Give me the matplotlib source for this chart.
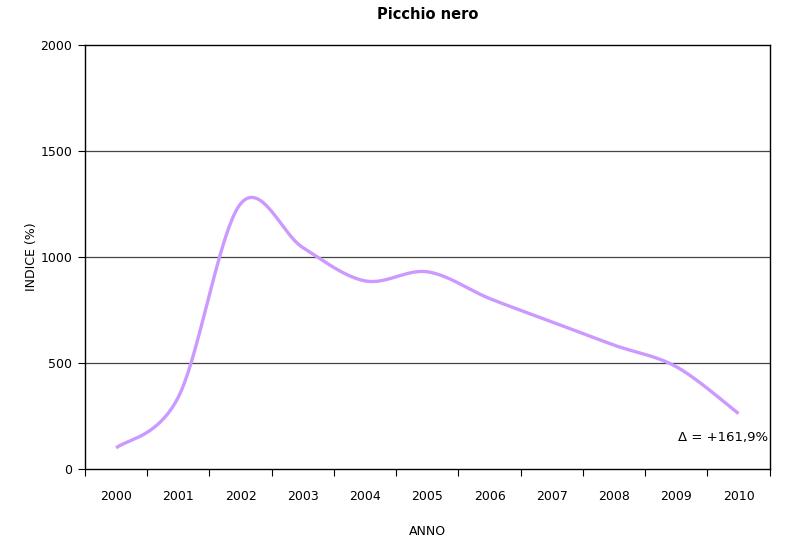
import numpy as np
import matplotlib
matplotlib.use("Agg")
import matplotlib.pyplot as plt

years = ["2000", "2001", "2002", "2003", "2004", "2005",
         "2006", "2007", "2008", "2009", "2010"]
index_values = [100, 340, 1252, 1045, 888, 931, 805, 695, 585, 483, 262]
delta_label = "Δ = +161,9%"
title = "Picchio nero"

plt.rcParams['font.family'] = ['DejaVu Sans Condensed', 'DejaVu Sans']


def smooth_curve(x, y, steps=40):
    """Catmull-Rom style cubic Bezier smoothing through every point."""
    x = np.asarray(x, float)
    y = np.asarray(y, float)
    px = np.concatenate([[x[0]], x, [x[-1]]])
    py = np.concatenate([[y[0]], y, [y[-1]]])
    xs, ys = [], []
    t = np.linspace(0, 1, steps)
    for i in range(1, len(px) - 2):
        p0 = np.array([px[i], py[i]])
        p3 = np.array([px[i + 1], py[i + 1]])
        c1 = p0 + (np.array([px[i + 1], py[i + 1]]) - np.array([px[i - 1], py[i - 1]])) / 6
        c2 = p3 - (np.array([px[i + 2], py[i + 2]]) - np.array([px[i], py[i]])) / 6
        b = ((1 - t) ** 3)[:, None] * p0 + (3 * (1 - t) ** 2 * t)[:, None] * c1 \
            + (3 * (1 - t) * t ** 2)[:, None] * c2 + (t ** 3)[:, None] * p3
        xs.extend(b[:, 0])
        ys.extend(b[:, 1])
    return np.array(xs), np.array(ys)


fig = plt.figure(figsize=(7.87, 5.38), dpi=100)
ax = fig.add_axes([0.108, 0.128, 0.870, 0.788])

pos = np.arange(len(years))
sx, sy = smooth_curve(pos, index_values)
ax.plot(sx, sy, color="#CC99FF", lw=2.4, solid_capstyle="butt", zorder=3)

ax.set_xlim(-0.5, len(years) - 0.5)
ax.set_ylim(0, 2000)
ax.set_yticks([0, 500, 1000, 1500, 2000])
ax.set_xticks(pos)
ax.set_xticklabels(years)
ax.set_xticks(np.arange(-0.5, len(years)), minor=True)
ax.tick_params(axis="x", which="major", length=0, pad=15, labelsize=9)
ax.tick_params(axis="x", which="minor", length=5, width=0.8, color="black")
ax.tick_params(axis="y", length=5, width=0.8, labelsize=9, pad=4)

for v in [500, 1000, 1500]:
    ax.axhline(v, color="#444444", lw=0.9, zorder=1)

for s in ax.spines.values():
    s.set_color("black")
    s.set_linewidth(1.0)

ax.text(0.998, 151, delta_label, transform=ax.get_yaxis_transform(),
        ha="right", va="center", fontsize=9.5)

ax.set_title(title, fontsize=10.5, fontweight="bold", pad=19)
ax.set_xlabel("ANNO", fontsize=9, labelpad=16)
ax.set_ylabel("INDICE (%)", fontsize=9, labelpad=2)

fig.savefig("out.png", dpi=100)
